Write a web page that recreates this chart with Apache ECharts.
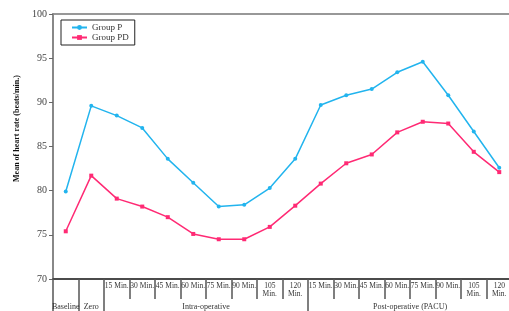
<!DOCTYPE html>
<html>
<head>
<meta charset="utf-8">
<script src="https://cdn.jsdelivr.net/npm/echarts@6/dist/echarts.min.js"></script>
<style>
  html, body { margin: 0; padding: 0; background: #fff; }
  #heart { width: 509px; height: 311px; }
</style>
</head>
<body>
<div id="heart"></div>
<script>
// categories (unique keys) and what is printed under each one
var categories = ['Baseline', 'Zero',
  'I15', 'I30', 'I45', 'I60', 'I75', 'I90', 'I105', 'I120',
  'P15', 'P30', 'P45', 'P60', 'P75', 'P90', 'P105', 'P120'];
var minuteLabels = ['', '',
  '15 Min.', '30 Min.', '45 Min.', '60 Min.', '75 Min.', '90 Min.', '105\nMin.', '120\nMin.',
  '15 Min.', '30 Min.', '45 Min.', '60 Min.', '75 Min.', '90 Min.', '105\nMin.', '120\nMin.'];
var groupLabels = ['Baseline', 'Zero', 'Intra-operative', 'Post-operative (PACU)'];
var groupCenters = [0.5, 1.5, 6, 14];
var groupBounds = [0, 1, 2, 10, 18];

var groupP = [79.9, 89.6, 88.5, 87.1, 83.6, 80.9, 78.2, 78.4, 80.3, 83.6,
  89.7, 90.8, 91.5, 93.4, 94.6, 90.8, 86.7, 82.6];
var groupPD = [75.4, 81.7, 79.1, 78.2, 77.0, 75.1, 74.5, 74.5, 75.9, 78.3,
  80.8, 83.1, 84.1, 86.6, 87.8, 87.6, 84.4, 82.1];

var yTicks = { min: 70, max: 100, step: 5 };

function draw_heart() {
  var dom = document.getElementById('heart');
  var myChart = echarts.init(dom, null, { renderer: 'canvas' });
  var serif = 'Liberation Serif';

  var option = {
    animation: false,
    grid: {
      show: true,
      outerBoundsMode: 'none',
      left: 53, width: 459, top: 14, bottom: 32,
      borderColor: '#777',
      borderWidth: 1.5
    },
    legend: {
      orient: 'vertical',
      left: 61, top: 20,
      borderColor: '#222',
      borderWidth: 1,
      padding: [3, 6, 3, 10],
      itemGap: 1,
      itemWidth: 15,
      itemHeight: 6,
      textStyle: { fontFamily: serif, fontSize: 9, color: '#333' }
    },
    xAxis: [
      {
        type: 'category',
        data: categories,
        boundaryGap: true,
        axisLine: { lineStyle: { color: '#333', width: 1.5 } },
        axisTick: { show: true, interval: 0, length: 20, lineStyle: { color: '#555', width: 1.5 } },
        axisLabel: {
          interval: 0,
          margin: 3,
          fontFamily: serif,
          fontSize: 7.5,
          lineHeight: 8,
          color: '#333',
          formatter: function (v, i) { return minuteLabels[i]; }
        }
      },
      {
        type: 'value',
        position: 'bottom',
        min: 0, max: 18,
        axisLine: { show: false },
        splitLine: { show: false },
        axisTick: {
          show: true, length: 33, customValues: groupBounds,
          lineStyle: { color: '#555', width: 1.5 }
        },
        axisLabel: {
          customValues: groupCenters,
          margin: 24,
          fontFamily: serif,
          fontSize: 8,
          color: '#333',
          formatter: function (v) { return groupLabels[groupCenters.indexOf(v)]; }
        }
      }
    ],
    yAxis: {
      type: 'value',
      min: yTicks.min, max: yTicks.max, interval: yTicks.step,
      name: 'Mean of heart rate (beats/min.)',
      nameLocation: 'middle',
      nameGap: 30,
      nameTextStyle: { fontFamily: serif, fontSize: 8, fontWeight: 'bold', color: '#111', padding: [0, 0, 0, 36] },
      axisLine: { show: true, lineStyle: { color: '#888', width: 2 } },
      axisTick: { show: true, length: 4, lineStyle: { color: '#666' } },
      splitLine: { show: false },
      axisLabel: { fontFamily: serif, fontSize: 10, color: '#444', margin: 6 }
    },
    series: [
      {
        name: 'Group P',
        type: 'line',
        data: groupP,
        symbol: 'circle',
        symbolSize: 4,
        color: '#22b4ee',
        lineStyle: { width: 1.5 }
      },
      {
        name: 'Group PD',
        type: 'line',
        data: groupPD,
        symbol: 'rect',
        symbolSize: 4,
        color: '#ff2a74',
        lineStyle: { width: 1.5 }
      }
    ]
  };

  myChart.setOption(option);
  window.addEventListener('resize', myChart.resize);
}
draw_heart();
</script>
</body>
</html>
